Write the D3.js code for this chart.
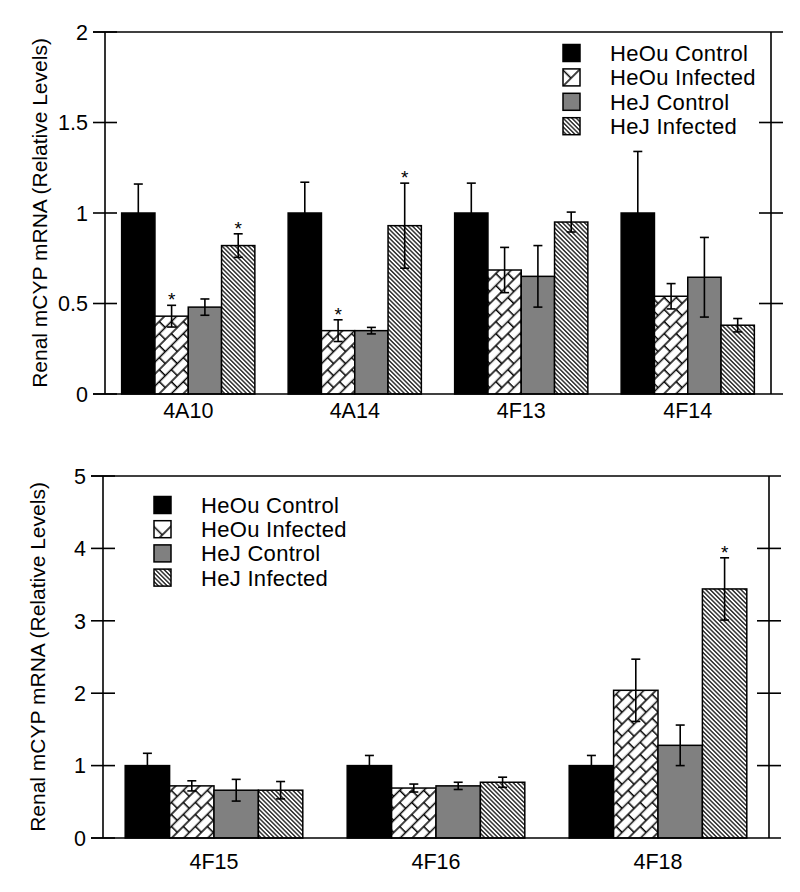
<!DOCTYPE html>
<html>
<head>
<meta charset="utf-8">
<script src="https://cdn.jsdelivr.net/npm/d3@7"></script>
<style>
  html, body { margin: 0; padding: 0; background: #fff; }
  svg { display: block; font-family: "Liberation Sans", Arial, Helvetica, sans-serif; }
</style>
</head>
<body>
<svg id="chart" width="800" height="892"></svg>
<script>
// ---------- DATA ----------
const seriesNames = ["HeOu Control", "HeOu Infected", "HeJ Control", "HeJ Infected"];

const topCategories = ["4A10", "4A14", "4F13", "4F14"];
const topHeOuControl     = [1.00, 1.00, 1.00, 1.00];
const topHeOuControlErr  = [0.16, 0.17, 0.165, 0.34];
const topHeOuInfected    = [0.43, 0.35, 0.685, 0.54];
const topHeOuInfectedErr = [0.06, 0.06, 0.125, 0.07];
const topHeJControl      = [0.48, 0.35, 0.65, 0.645];
const topHeJControlErr   = [0.045, 0.018, 0.17, 0.22];
const topHeJInfected     = [0.82, 0.93, 0.95, 0.38];
const topHeJInfectedErr  = [0.065, 0.235, 0.055, 0.037];
// significance stars: [categoryIndex, seriesIndex]
const topStars = [[0, 1], [0, 3], [1, 1], [1, 3]];
const topTicks = [0, 0.5, 1, 1.5, 2];
const topTickLabels = ["0", "0.5", "1", "1.5", "2"];

const botCategories = ["4F15", "4F16", "4F18"];
const botHeOuControl     = [1.00, 1.00, 1.00];
const botHeOuControlErr  = [0.17, 0.14, 0.14];
const botHeOuInfected    = [0.72, 0.69, 2.04];
const botHeOuInfectedErr = [0.07, 0.055, 0.43];
const botHeJControl      = [0.66, 0.72, 1.28];
const botHeJControlErr   = [0.15, 0.05, 0.28];
const botHeJInfected     = [0.66, 0.77, 3.44];
const botHeJInfectedErr  = [0.12, 0.07, 0.43];
const botStars = [[2, 3]];
const botTicks = [0, 1, 2, 3, 4, 5];
const botTickLabels = ["0", "1", "2", "3", "4", "5"];

const yTitle = "Renal mCYP mRNA (Relative Levels)";

// ---------- DRAWING ----------
const svg = d3.select("#chart");
const defs = svg.append("defs");

// Brick/weave pattern for HeOu Infected
function brickPattern(id, w, h, sw) {
  const p = defs.append("pattern").attr("id", id)
    .attr("patternUnits", "userSpaceOnUse")
    .attr("width", w).attr("height", 2 * h)
    .attr("patternTransform", "rotate(-45)");
  p.append("rect").attr("width", w).attr("height", 2 * h).attr("fill", "#fff");
  const g = p.append("g").attr("stroke", "#000").attr("stroke-width", sw).attr("fill", "none");
  g.append("line").attr("x1", 0).attr("x2", w).attr("y1", 0).attr("y2", 0);
  g.append("line").attr("x1", 0).attr("x2", w).attr("y1", h).attr("y2", h);
  g.append("line").attr("x1", 0).attr("x2", w).attr("y1", 2 * h).attr("y2", 2 * h);
  g.append("line").attr("x1", w * 0.25).attr("x2", w * 0.25).attr("y1", 0).attr("y2", h);
  g.append("line").attr("x1", w * 0.75).attr("x2", w * 0.75).attr("y1", h).attr("y2", 2 * h);
}
function diagPattern(id, s, sw) {
  const p = defs.append("pattern").attr("id", id)
    .attr("patternUnits", "userSpaceOnUse")
    .attr("width", s).attr("height", s)
    .attr("patternTransform", "rotate(-45)");
  p.append("rect").attr("width", s).attr("height", s).attr("fill", "#fff");
  p.append("line").attr("x1", s / 2).attr("x2", s / 2).attr("y1", 0).attr("y2", s)
    .attr("stroke", "#000").attr("stroke-width", sw);
}
brickPattern("brick", 17, 8.5, 1.5);
brickPattern("brickLegend", 34, 17, 1.5);
diagPattern("diag", 3.1, 1.2);

const fills = ["#000000", "url(#brick)", "#808080", "url(#diag)"];
const legendFills = ["#000000", "url(#brickLegend)", "#808080", "url(#diag)"];

function drawPanel(cfg) {
  const { left, right, top, bottom, yMax, ticks, tickLabels, categories, values, errors, stars, legend, labelDy } = cfg;
  const g = svg.append("g");
  const y = d3.scaleLinear().domain([0, yMax]).range([bottom, top]);
  const x0 = d3.scaleBand().domain(categories).range([left, right]).paddingInner(0.2).paddingOuter(0.1);
  const x1 = d3.scaleBand().domain(d3.range(seriesNames.length)).range([0, x0.bandwidth()]);

  // bars
  categories.forEach((cat, ci) => {
    seriesNames.forEach((s, si) => {
      const v = values[si][ci];
      const e = errors[si][ci];
      const bx = x0(cat) + x1(si);
      const bw = x1.bandwidth();
      g.append("rect")
        .attr("x", bx).attr("y", y(v))
        .attr("width", bw).attr("height", y(0) - y(v))
        .attr("fill", fills[si]).attr("stroke", "#000").attr("stroke-width", 1.5);
      const cx = bx + bw / 2;
      const eg = g.append("g").attr("stroke", "#000").attr("stroke-width", 1.6);
      eg.append("line").attr("x1", cx).attr("x2", cx).attr("y1", y(v + e)).attr("y2", y(Math.max(0, v - e)));
      eg.append("line").attr("x1", cx - 4.5).attr("x2", cx + 4.5).attr("y1", y(v + e)).attr("y2", y(v + e));
      if (si !== 0) eg.append("line").attr("x1", cx - 4.5).attr("x2", cx + 4.5)
        .attr("y1", y(Math.max(0, v - e))).attr("y2", y(Math.max(0, v - e)));
    });
  });

  // stars
  stars.forEach(([ci, si]) => {
    const v = values[si][ci], e = errors[si][ci];
    const cx = x0(categories[ci]) + x1(si) + x1.bandwidth() / 2;
    g.append("text").attr("x", cx).attr("y", y(v + e) + 1)
      .attr("text-anchor", "middle").attr("font-size", 19).text("*");
  });

  // axes
  const axG = g.append("g").attr("stroke", "#000").attr("stroke-width", 1.6).attr("fill", "none");
  axG.append("line").attr("x1", left).attr("x2", left).attr("y1", top).attr("y2", bottom);
  axG.append("line").attr("x1", right).attr("x2", right).attr("y1", top).attr("y2", bottom);
  axG.append("line").attr("x1", left - 12).attr("x2", right + 12).attr("y1", y(0)).attr("y2", y(0));
  axG.append("line").attr("x1", left - 12).attr("x2", right + 12).attr("y1", y(yMax)).attr("y2", y(yMax));
  ticks.forEach(t => {
    axG.append("line").attr("x1", left - 12).attr("x2", left + 12).attr("y1", y(t)).attr("y2", y(t));
    if (t > 0 && t < yMax)
      axG.append("line").attr("x1", right - 12).attr("x2", right + 12).attr("y1", y(t)).attr("y2", y(t));
  });
  ticks.forEach((t, i) => {
    g.append("text").attr("x", left - 17).attr("y", y(t)).attr("dy", "0.36em")
      .attr("text-anchor", "end").attr("font-size", 21.5).attr("fill", "#000").text(tickLabels[i]);
  });
  // category labels
  categories.forEach(cat => {
    g.append("text").attr("x", x0(cat) + x0.bandwidth() / 2).attr("y", bottom + labelDy)
      .attr("text-anchor", "middle").attr("font-size", 21.5).attr("fill", "#000").text(cat);
  });
  // y title
  g.append("text")
    .attr("transform", `translate(${left - 58},${(top + bottom) / 2}) rotate(-90)`)
    .attr("text-anchor", "middle").attr("font-size", 21).attr("fill", "#000").text(yTitle);

  // legend
  seriesNames.forEach((s, si) => {
    const ly = legend.y + si * legend.step;
    g.append("rect").attr("x", legend.x).attr("y", ly - 8.5).attr("width", 17).attr("height", 17)
      .attr("fill", legendFills[si]).attr("stroke", "#000").attr("stroke-width", 1.5);
    g.append("text").attr("x", legend.x + legend.textDx).attr("y", ly).attr("dy", "0.36em")
      .attr("font-size", 22).attr("letter-spacing", 0.3).attr("fill", "#000").text(s);
  });
}

drawPanel({
  left: 105, right: 771, top: 32, bottom: 394, yMax: 2,
  ticks: topTicks, tickLabels: topTickLabels, categories: topCategories,
  values: [topHeOuControl, topHeOuInfected, topHeJControl, topHeJInfected],
  errors: [topHeOuControlErr, topHeOuInfectedErr, topHeJControlErr, topHeJInfectedErr],
  stars: topStars, labelDy: 24,
  legend: { x: 563, y: 53, step: 24.4, textDx: 47 }
});

drawPanel({
  left: 103, right: 769, top: 476, bottom: 838, yMax: 5,
  ticks: botTicks, tickLabels: botTickLabels, categories: botCategories,
  values: [botHeOuControl, botHeOuInfected, botHeJControl, botHeJInfected],
  errors: [botHeOuControlErr, botHeOuInfectedErr, botHeJControlErr, botHeJInfectedErr],
  stars: botStars, labelDy: 31,
  legend: { x: 154, y: 505, step: 24.2, textDx: 47 }
});
</script>
</body>
</html>
